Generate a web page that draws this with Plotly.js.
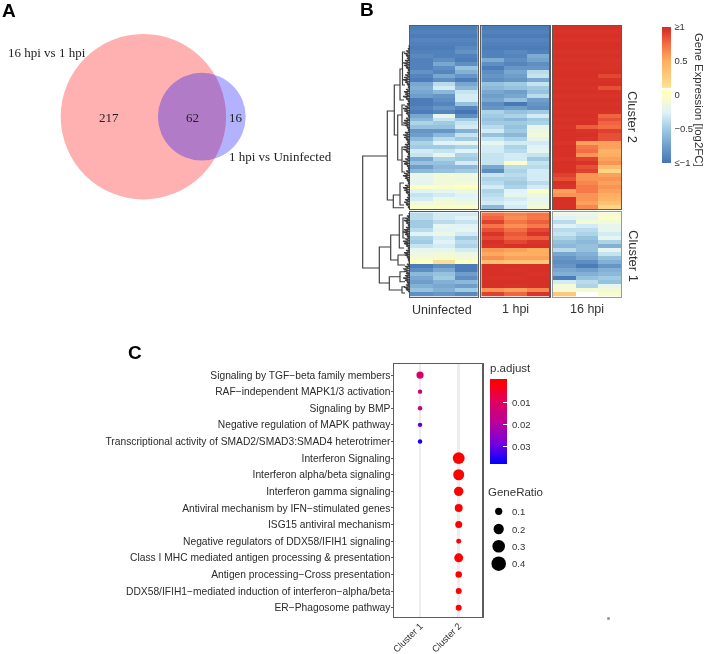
<!DOCTYPE html>
<html><head><meta charset="utf-8">
<script src="https://cdn.plot.ly/plotly-3.0.1.min.js"></script>
<style>html,body{margin:0;padding:0;background:#fff}#chart{filter:blur(0.45px)}</style></head>
<body><div id="chart" style="width:708px;height:654px"></div>
<script>
// ---------- Panel A ----------
const vennSets = ['16 hpi vs 1 hpi', '1 hpi vs Uninfected'];
const vennCounts = [217, 62, 16];

// ---------- Panel B (rows x replicates) ----------
const conditions = ['Uninfected', '1 hpi', '16 hpi'];
const clusters = ['Cluster 2', 'Cluster 1'];
const uninfC2 = [[-.95,-.95,-.95],[-.92,-.92,-.92],[-.95,-.95,-.95],[-.9,-.9,-.9],[-.93,-.93,-.93],[-.95,-.95,-.88],[-.92,-.92,-.82],[-.88,-.92,-.92],[-.92,-.85,-.95],[-.92,-.7,-.85],[-.92,-.85,-.55],[-.82,-.9,-.65],[-.9,-.7,-.8],[-.95,-.85,-.95],[-.7,-.4,-.7],[-.65,-.3,-.6],[-.7,-.6,-.35],[-.75,-.8,-.3],[-.95,-.85,-.3],[-.95,-.9,-.55],[-.9,-.8,-.9],[-.95,-.9,-1],[-.7,-.2,-.85],[-.6,-.35,-.5],[-.45,-.5,-.35],[-.55,-.55,-.3],[-.8,-.8,-.65],[-.75,-.6,-.35],[-.6,-.4,-.5],[-.45,-.25,-.2],[-.5,-.5,-.45],[-.3,-.35,-.25],[-.35,-.2,-.45],[-.7,-.45,-.5],[-.55,-.55,-.3],[-.75,-.6,-.6],[-.6,-.55,-.5],[-.18,-.1,-.12],[-.2,-.12,-.15],[-.22,-.12,-.1],[.02,-.05,.02],[-.25,-.2,-.15],[-.35,-.3,-.25],[-.3,-.15,-.2],[-.12,-.08,-.12],[-.04,-.04,-.05]];
const hpi1C2 = [[-.95,-.95,-.95],[-.92,-.92,-.92],[-.95,-.95,-.95],[-.9,-.9,-.9],[-.93,-.93,-.93],[-.95,-.95,-.95],[-.92,-.88,-.92],[-.92,-.9,-.68],[-.68,-.85,-.72],[-.85,-.9,-.85],[-.95,-.8,-.8],[-.85,-.7,-.4],[-.8,-.75,-.35],[-.85,-.8,-.7],[-.55,-.5,-.35],[-.6,-.55,-.5],[-.7,-.75,-.55],[-.75,-.7,-.4],[-.7,-.55,-.75],[-.85,-.98,-.8],[-.8,-.75,-.85],[-.45,-.55,-.5],[-.5,-.45,-.3],[-.55,-.6,-.5],[-.5,-.5,-.45],[-.4,-.55,-.2],[-.3,-.5,-.15],[-.55,-.6,-.1],[-.35,-.45,-.2],[-.2,-.3,-.3],[-.3,-.45,-.25],[-.3,-.4,-.2],[-.35,-.3,-.35],[-.35,-.3,-.5],[-.35,-.03,-.35],[-.7,-.4,-.4],[-.85,-.45,-.3],[-.35,-.4,-.3],[-.45,-.45,-.3],[-.4,-.5,-.4],[-.3,-.45,-.3],[-.45,-.25,-.03],[-.4,-.2,-.15],[-.35,-.3,-.2],[-.3,-.25,-.15],[-.6,-.3,-.1]];
const hpi16C2 = [[1,1,1],[.95,.95,.95],[1,1,1],[.95,.95,.95],[1,1,1],[1,1,1],[.95,.95,.95],[1,1,1],[.95,.95,.95],[1,1,.97],[.97,.97,.97],[1,1,1],[1,1,.88],[.97,.97,.97],[1,1,1],[.97,.97,.85],[1,1,1],[.95,.95,.95],[1,1,1],[.97,.97,.97],[1,1,1],[.97,.97,.97],[1,1,.78],[.95,.95,.85],[1,1,.78],[.95,.8,.75],[1,.95,.9],[1,1,.85],[1,.95,.85],[.95,.55,.55],[1,.7,.55],[1,.75,.45],[1,.6,.5],[.95,.9,.55],[1,.95,.6],[1,.85,.4],[1,.9,.2],[.9,.6,.55],[.85,.6,.6],[1,.65,.55],[.95,.7,.6],[.55,.7,.55],[.6,.6,.5],[1,.6,.45],[1,.55,.35],[1,.65,.2]];
const uninfC1 = [[-.4,-.3,-.3],[-.4,-.3,-.25],[-.5,-.4,-.35],[-.5,-.2,-.25],[-.4,-.25,-.2],[-.25,-.15,-.3],[-.45,-.3,-.5],[-.5,-.25,-.4],[-.35,-.3,-.45],[-.2,-.2,-.3],[-.15,-.12,-.15],[-.1,-.08,-.12],[.02,.12,.05],[-.95,-.85,-.95],[-.85,-.7,-.95],[-.6,-.55,-.75],[-.7,-.5,-.85],[-.75,-.65,-.6],[-.65,-.7,-.75],[-.55,-.65,-.5],[-.85,-.8,-.88]];
const hpi1C1 = [[.72,.66,.72],[.78,.62,.7],[.9,.72,.8],[.72,.62,.7],[.85,.75,.88],[.95,.82,.95],[.88,.78,.8],[1,.88,.95],[.95,1,1],[.58,.55,.5],[.52,.47,.5],[.62,.55,.55],[.35,.3,.3],[1,1,1],[1,.97,1],[1,1,.97],[.97,.97,1],[1,1,1],[1,.97,1],[.6,.55,.65],[.9,.78,.95]];
const hpi16C1 = [[-.15,-.15,-.1],[-.25,-.2,-.05],[-.4,-.1,-.1],[-.25,-.3,-.2],[-.4,-.4,-.2],[-.35,-.45,-.3],[-.45,-.55,-.2],[-.55,-.6,-.45],[-.6,-.55,-.65],[-.4,-.55,-.2],[-.7,-.65,-.35],[-.8,-.7,-.55],[-.85,-.85,-.65],[-.8,-.95,-.8],[-.7,-.75,-.65],[-.65,-.65,-.6],[-.95,-.55,-.5],[-.3,-.4,-.55],[-.1,-.45,-.2],[-.1,-.08,-.12],[.3,.1,-.05]];
const exprTicks = [-1, -0.5, 0, 0.5, 1];
const exprTickText = ['\u2264\u22121', '\u22120.5', '0', '0.5', '\u22651'];
// dendrogram brackets: [height, yTop, yBottom, heightTopChild, heightBottomChild]
const dendroBrackets = [[47.3,156,268,22.7,30.7],[22.7,111,200,15.7,16.7],[15.7,85,135,10,12.3],[10,69,100,7.5,6],[7.5,52,85,5,5],[12.3,115,160,8,8],[8,105,125,5,5],[8,147,172,5,5],[16.7,195,207.7,10,6],[10,183,205,6,6],[30.7,247,283,19.3,20.7],[19.3,235,260,10.7,12],[10.7,215,248,7,6],[7,218,238,5,5],[12,255,265,5,5],[20.7,276.7,290,10,8],[10,271.7,281.7,5,5],[8,286.7,293,5,5]];
const leafRowsC2 = [1,2,4,6,4,3,5,7,6,4,2,3,5,6,7,5,3,2,4,6,5,7,4,2,3,5,7,6,4,2,4,6,7,5,3,2,5,7,6,4,3,5,6,7,4,2,3,5,7,6,3,2,4,6,7,5,3,2,5,7,6,4,2,3,5,6,4,2,1];
const leafRowsC1 = [1,3,5,6,4,2,4,6,7,5,3,5,7,6,4,2,4,6,5,3,2,1,3,5,7,6,4,5,7,5,3,4,6,4,2];

// ---------- Panel C ----------
const pathways = ['Signaling by TGF\u2212beta family members','RAF\u2212independent MAPK1/3 activation','Signaling by BMP','Negative regulation of MAPK pathway','Transcriptional activity of SMAD2/SMAD3:SMAD4 heterotrimer','Interferon Signaling','Interferon alpha/beta signaling','Interferon gamma signaling','Antiviral mechanism by IFN\u2212stimulated genes','ISG15 antiviral mechanism','Negative regulators of DDX58/IFIH1 signaling','Class I MHC mediated antigen processing & presentation','Antigen processing\u2212Cross presentation','DDX58/IFIH1\u2212mediated induction of interferon\u2212alpha/beta','ER\u2212Phagosome pathway'];
const dotClusters = ['Cluster 1','Cluster 1','Cluster 1','Cluster 1','Cluster 1','Cluster 2','Cluster 2','Cluster 2','Cluster 2','Cluster 2','Cluster 2','Cluster 2','Cluster 2','Cluster 2','Cluster 2'];
const geneRatio = [.10,.038,.038,.038,.038,.27,.23,.17,.12,.093,.047,.153,.08,.068,.068];
const pAdjust = [.0115,.0135,.014,.0305,.036,.0001,.0001,.0001,.0001,.0001,.0001,.0001,.0001,.0001,.0001];
const pTicks = [.01,.02,.03];
const ratioLegend = [.1,.2,.3,.4];

// ---------- helpers (pixel layout of the 708x654 page) ----------
const W=708,H=654;
const dx=(a,b)=>[a/W,b/W], dy=(t,b)=>[1-b/H,1-t/H];
const px=v=>v/W, py=v=>1-v/H;
const sans='Liberation Sans, Arial, sans-serif', serif='Liberation Serif, Times New Roman, serif';
const exprScale=[[0,'#4575b4'],[.125,'#6f9ecb'],[.25,'#a0cbe3'],[.375,'#e0f3f8'],[.5,'#ffffbf'],[.533,'#ffffbf'],[.54,'#ffffff'],[.55,'#ffffff'],[.556,'#fee090'],[.75,'#fdae61'],[.875,'#f46d43'],[.97,'#d9352a'],[1,'#d73027']];
const dotScale=[[0,'#0000ff'],[.25,'#7a00dc'],[.5,'#bc0098'],[.75,'#e2005a'],[.97,'#ff0000'],[1,'#ff0000']];
const SIZEREF=0.0038;

const layout={width:W,height:H,margin:{l:0,r:0,t:0,b:0},paper_bgcolor:'#fff',plot_bgcolor:'rgba(0,0,0,0)',showlegend:false,font:{family:sans,color:'#333'},shapes:[],annotations:[]};
const traces=[];

// heatmaps
const colX=[[410,477.7],[481.3,549.3],[553,621]];
const rowY=[[26,209],[212.3,296.7]];
const hm=[[uninfC2,hpi1C2,hpi16C2],[uninfC1,hpi1C1,hpi16C1]];
let ax=1;
hm.forEach((row,r)=>row.forEach((z,c)=>{
  const xa='xaxis'+ax, ya='yaxis'+ax;
  const lc=(ax===6)?'#999':'#5c5c5c';
  const base={showgrid:false,zeroline:false,showticklabels:false,ticks:'',showline:true,mirror:true,linecolor:lc,linewidth:1.3,fixedrange:true};
  layout[xa]=Object.assign({},base,{domain:dx(...colX[c]),range:[-.5,2.5],anchor:'y'+ax});
  layout[ya]=Object.assign({},base,{domain:dy(...rowY[r]),range:[z.length-.5,-.5],anchor:'x'+ax});
  const t={type:'heatmap',z:z,xaxis:'x'+ax,yaxis:'y'+ax,zmin:-1,zmax:1,colorscale:exprScale,showscale:false,hoverinfo:'skip'};
  if(ax===1){t.showscale=true;t.colorbar={x:px(661.7),xanchor:'left',xpad:0,ypad:0,thickness:9,thicknessmode:'pixels',len:136,lenmode:'pixels',y:py(95),yanchor:'middle',outlinewidth:0,ticks:'outside',ticklen:2,tickcolor:'rgba(0,0,0,0)',tickmode:'array',tickvals:exprTicks,ticktext:exprTickText,tickfont:{size:9.5,color:'#333',family:sans}};}
  traces.push(t);ax++;
}));

// dendrogram
const dX=[],dY=[];
dendroBrackets.forEach(b=>{dX.push(b[3],b[0],b[0],b[4],null);dY.push(b[1],b[1],b[2],b[2],null);});
[[leafRowsC2,46,2.4],[leafRowsC1,213.5,2.3]].forEach(([arr,start,step])=>{
  arr.forEach((h,i)=>{const y=start+i*step;dX.push(0,h);dY.push(y,y);});
  dX.push(null);dY.push(null);
});
layout.xaxis7={domain:dx(355,410),range:[55,0],visible:false,fixedrange:true,anchor:'y7'};
layout.yaxis7={domain:[0,1],range:[H,0],visible:false,fixedrange:true,anchor:'x7'};
traces.push({type:'scatter',mode:'lines',x:dX,y:dY,xaxis:'x7',yaxis:'y7',line:{color:'#3c3c3c',width:1.15},hoverinfo:'skip'});

// dot plot
layout.xaxis8={domain:dx(394.3,482.3),type:'category',categoryorder:'array',categoryarray:['Cluster 1','Cluster 2'],range:[-.666,1.61],anchor:'y8',showline:true,mirror:true,linecolor:'#5c5c5c',linewidth:1.3,showgrid:true,gridcolor:'#ededed',gridwidth:2.5,zeroline:false,ticks:'',tickangle:-45,ticklabelstandoff:-1,tickfont:{size:9.3,color:'#333',family:sans},fixedrange:true};
layout.yaxis8={domain:dy(364.3,616.7),type:'category',categoryorder:'array',categoryarray:pathways,range:[14.54,-.644],anchor:'x8',showline:true,mirror:true,linecolor:'#5c5c5c',linewidth:1.3,showgrid:false,zeroline:false,ticks:'outside',ticklen:2.5,tickcolor:'#5c5c5c',ticklabelstandoff:-2,tickfont:{size:10.25,color:'#2a2a2a',family:sans},fixedrange:true};
traces.push({type:'scatter',mode:'markers',x:dotClusters,y:pathways,xaxis:'x8',yaxis:'y8',hoverinfo:'skip',
  marker:{size:geneRatio,sizemode:'area',sizeref:SIZEREF,opacity:1,color:pAdjust.map(v=>-v),cmin:-.0379,cmax:.0008,colorscale:dotScale,showscale:true,line:{width:0},
    colorbar:{x:px(489.7),xanchor:'left',xpad:0,ypad:0,thickness:17,thicknessmode:'pixels',len:85,lenmode:'pixels',y:py(421.5),yanchor:'middle',outlinewidth:0,ticks:'inside',ticklen:4,tickcolor:'#fff',tickmode:'array',tickvals:pTicks.map(v=>-v),showticklabels:false}}});

// overlay in page pixels: Venn discs, size legend
layout.xaxis9={domain:[0,1],range:[0,W],visible:false,fixedrange:true,anchor:'y9'};
layout.yaxis9={domain:[0,1],range:[H,0],visible:false,fixedrange:true,anchor:'x9'};
const ratioY=[511.3,529,546.3,563.7];
traces.push({type:'scatter',mode:'markers',x:ratioLegend.map(()=>498.7),y:ratioY,xaxis:'x9',yaxis:'y9',hoverinfo:'skip',
  marker:{size:ratioLegend,sizemode:'area',sizeref:SIZEREF,opacity:1,color:'#000',line:{width:0}}});
traces.push({type:'scatter',mode:'markers',x:[608.5],y:[618.5],xaxis:'x9',yaxis:'y9',hoverinfo:'skip',marker:{size:2.5,symbol:'square',color:'#888',line:{width:0}}});
const circle=(cx,cy,r,c)=>({type:'circle',xref:'x9',yref:'y9',x0:cx-r,x1:cx+r,y0:cy-r,y1:cy+r,fillcolor:c,line:{width:0},layer:'below'});
layout.shapes.push(circle(143.4,116.7,82.7,'rgba(255,0,0,0.31)'),circle(201.8,116.7,43.9,'rgba(0,0,255,0.30)'));

const note=(text,x,y,o={})=>layout.annotations.push(Object.assign({text:String(text),xref:'paper',yref:'paper',x:px(x),y:py(y),xanchor:'center',yanchor:'middle',showarrow:false,font:{family:sans,size:12,color:'#333'}},o));
const sf=s=>({font:{family:serif,size:13,color:'#222'}});
note(vennSets[0],6,52,Object.assign(sf(),{xanchor:'left'}));
note(vennSets[1],227,157,Object.assign(sf(),{xanchor:'left'}));
note(vennCounts[0],109,117,sf());note(vennCounts[1],192,117,sf());note(vennCounts[2],236,117,sf());
const bold=s=>({font:{family:sans,size:19,color:'#000'}});
note('<b>A</b>',9,10.5,bold());note('<b>B</b>',367.5,9.5,bold());note('<b>C</b>',135,352.5,bold());
note(conditions[0],441.7,310,{font:{family:sans,size:12.5,color:'#333'}});
note(conditions[1],515,309,{font:{family:sans,size:12.5,color:'#333'}});
note(conditions[2],586.7,309,{font:{family:sans,size:12.5,color:'#333'}});
note(clusters[0],633,117,{textangle:90,font:{family:sans,size:13,color:'#333'}});
note(clusters[1],633,256,{textangle:90,font:{family:sans,size:13,color:'#333'}});
note('Gene Expression [log2FC]',699,100,{textangle:90,font:{family:sans,size:11.4,color:'#333'}});
note('p.adjust',488,368,{xanchor:'left',font:{family:sans,size:11.5,color:'#333'}});
note('GeneRatio',486,492,{xanchor:'left',font:{family:sans,size:11.5,color:'#333'}});
ratioLegend.forEach((v,i)=>note(v,510,ratioY[i],{xanchor:'left',font:{family:sans,size:9.5,color:'#333'}}));
pTicks.forEach(v=>note(v,510,380.7+2200*v,{xanchor:'left',font:{family:sans,size:9.5,color:'#333'}}));

Plotly.newPlot('chart',traces,layout,{displayModeBar:false,staticPlot:true});
</script></body></html>
